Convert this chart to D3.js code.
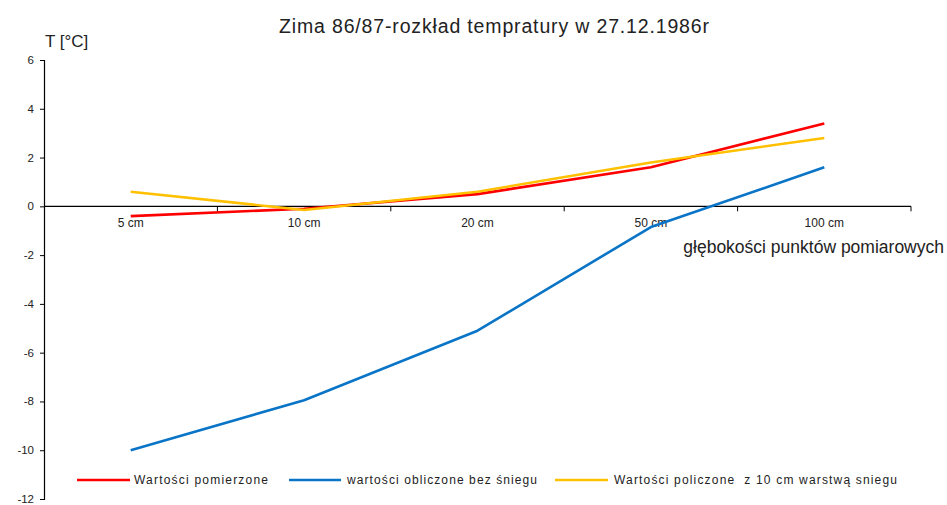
<!DOCTYPE html>
<html>
<head>
<meta charset="utf-8">
<script src="https://cdn.jsdelivr.net/npm/d3@7/dist/d3.min.js"></script>
<style>
  html, body { margin: 0; padding: 0; background: #fff; }
  svg { display: block; font-family: "Liberation Sans", Arial, sans-serif; }
</style>
</head>
<body>
<svg id="chart" width="947" height="505"></svg>
<script>
// Soil depths (categories) and temperatures [°C] per series
const depths = ["5 cm", "10 cm", "20 cm", "50 cm", "100 cm"];
const measured = [-0.4, -0.1, 0.5, 1.6, 3.4];
const computedNoSnow = [-10.0, -7.95, -5.1, -0.85, 1.6];
const computedSnow10 = [0.6, -0.15, 0.6, 1.8, 2.8];
const yTicks = [6, 4, 2, 0, -2, -4, -6, -8, -10, -12];

const seriesNames = [
  "Wartości pomierzone",
  "wartości obliczone bez śniegu",
  "Wartości policzone  z 10 cm warstwą sniegu"
];
const seriesColors = ["#ff0000", "#0a74c6", "#ffc000"];
const seriesValues = [measured, computedNoSnow, computedSnow10];

const svg = d3.select("#chart");
const plotLeft = 44, plotRight = 911, plotTop = 60, plotBottom = 499;

const x = d3.scaleBand().domain(depths).range([plotLeft, plotRight]).padding(0);
const y = d3.scaleLinear().domain([-12, 6]).range([plotBottom, plotTop]);

// Title
svg.append("text")
  .attr("x", 494).attr("y", 33)
  .attr("text-anchor", "middle")
  .attr("font-size", 19.5)
  .attr("fill", "#222")
  .attr("textLength", 430).attr("lengthAdjust", "spacing")
  .style("white-space", "pre")
  .text("Zima 86/87-rozkład tempratury w 27.12.1986r");

// Y axis
const yAxis = d3.axisLeft(y).tickValues(yTicks).tickSize(4).tickPadding(6)
  .tickFormat(d => String(d));
const gy = svg.append("g").attr("transform", `translate(${plotLeft},0)`).call(yAxis);
gy.select(".domain").attr("stroke", "#000").attr("stroke-width", 1.2);
gy.selectAll(".tick line").attr("stroke", "#000");
gy.selectAll(".tick text").attr("font-size", 11.5).attr("fill", "#222")
  .attr("font-family", "Liberation Sans, Arial, sans-serif").attr("dy", "0.3em");

svg.append("text")
  .attr("x", 45).attr("y", 47)
  .attr("font-size", 17).attr("fill", "#222")
  .text("T [°C]");

// X axis at zero, ticks on category boundaries
const gx = svg.append("g").attr("transform", `translate(0,${y(0)})`);
gx.append("line")
  .attr("x1", plotLeft).attr("x2", plotRight)
  .attr("stroke", "#000").attr("stroke-width", 1.2);
const bounds = depths.map(d => x(d)).concat([plotRight]).slice(1);
gx.selectAll("line.tk").data(bounds).join("line")
  .attr("class", "tk")
  .attr("x1", d => d).attr("x2", d => d)
  .attr("y1", 0).attr("y2", 5)
  .attr("stroke", "#000");
gx.selectAll("text.cat").data(depths).join("text")
  .attr("class", "cat")
  .attr("x", d => x(d) + x.bandwidth() / 2)
  .attr("y", 21)
  .attr("text-anchor", "middle")
  .attr("font-size", 12).attr("fill", "#222")
  .text(d => d);

svg.append("text")
  .attr("x", 944).attr("y", 253)
  .attr("text-anchor", "end")
  .attr("font-size", 17.5).attr("fill", "#222")
  .text("głębokości punktów pomiarowych");

// Series lines
const line = d3.line()
  .x((d, i) => x(depths[i]) + x.bandwidth() / 2)
  .y(d => y(d));

const drawOrder = [1, 0, 2];
drawOrder.forEach(k => {
  svg.append("path")
    .datum(seriesValues[k])
    .attr("fill", "none")
    .attr("stroke", seriesColors[k])
    .attr("stroke-width", 2.6)
    .attr("stroke-linejoin", "round")
    .attr("d", line);
});

// Legend
const legendItems = [
  { x1: 77, x2: 130, tx: 134, w: 134 },
  { x1: 289, x2: 341, tx: 347, w: 190 },
  { x1: 555, x2: 608, tx: 614, w: 283 }
];
const legendY = 480;
legendItems.forEach((it, k) => {
  svg.append("line")
    .attr("x1", it.x1).attr("x2", it.x2)
    .attr("y1", legendY).attr("y2", legendY)
    .attr("stroke", seriesColors[k]).attr("stroke-width", 2.6);
  svg.append("text")
    .attr("x", it.tx).attr("y", legendY + 4)
    .attr("font-size", 12).attr("fill", "#222")
    .attr("textLength", it.w).attr("lengthAdjust", "spacing")
    .style("white-space", "pre")
    .text(seriesNames[k]);
});
</script>
</body>
</html>
